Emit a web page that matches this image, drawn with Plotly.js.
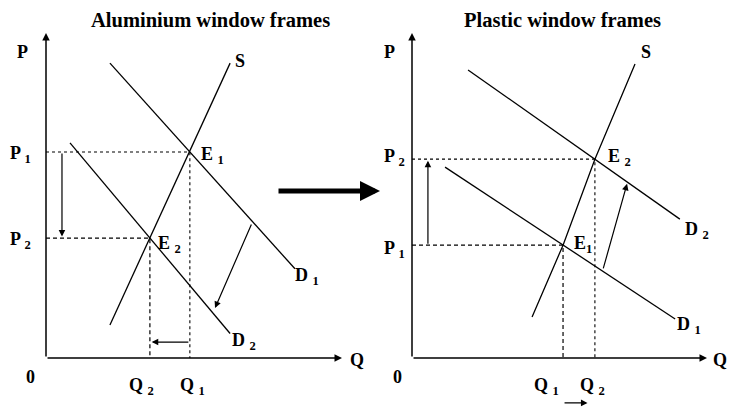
<!DOCTYPE html>
<html><head><meta charset="utf-8">
<script src="https://cdn.plot.ly/plotly-3.0.1.min.js"></script>
<style>html,body{margin:0;padding:0;background:#fff}#chart{width:731px;height:409px}</style>
</head><body><div id="chart"></div><script>
// ---- Aluminium window frames (left panel), Q and P in arbitrary units ----
const aluSupplyQ = [2.16, 3.51, 4.86, 6.22];
const aluSupplyP = [1.12, 4.06, 6.97, 9.98];
const aluD1Q = [2.16, 8.41];
const aluD1P = [9.98, 3.02];
const aluD2Q = [0.81, 6.22];
const aluD2P = [7.28, 0.83];
const aluEqQ = [4.86, 3.51];   // E1, E2
const aluEqP = [6.97, 4.06];
const aluShiftQ = [6.96, 5.71]; // demand shift arrow: from, to
const aluShiftP = [4.57, 1.69];
// ---- Plastic window frames (right panel) ----
const plaSupplyQ = [4.07, 5.12, 6.20, 7.56];
const plaSupplyP = [1.39, 3.82, 6.73, 9.95];
const plaD1Q = [1.12, 8.92];
const plaD1P = [6.46, 1.32];
const plaD2Q = [1.90, 9.08];
const plaD2P = [9.75, 4.70];
const plaEqQ = [5.12, 6.20];   // E1, E2
const plaEqP = [3.82, 6.73];
const plaShiftQ = [6.47, 7.29];
const plaShiftP = [2.98, 5.90];
const titles = ['Aluminium window frames', 'Plastic window frames'];

const W = 731, H = 409;
const FONT = 'Liberation Serif';
const px = x => x / W, py = y => 1 - y / H;

function line(xs, ys, ax, style) {
  return {x: xs, y: ys, xaxis: 'x' + ax, yaxis: 'y' + ax, mode: 'lines',
    hoverinfo: 'skip', showlegend: false,
    line: {color: '#000', width: style.w || 1.3, dash: style.dash || 'solid'}};
}
const traces = [];
// left
traces.push(line(aluSupplyQ, aluSupplyP, '', {}));
traces.push(line(aluD1Q, aluD1P, '', {}));
traces.push(line(aluD2Q, aluD2P, '', {}));
traces.push(line([0, aluEqQ[0], aluEqQ[0]], [aluEqP[0], aluEqP[0], 0], '', {dash: 'dot', w: 1.1}));
traces.push(line([0, aluEqQ[1], aluEqQ[1]], [aluEqP[1], aluEqP[1], 0], '', {dash: '4px,3px', w: 1.2}));
// right
traces.push(line(plaSupplyQ, plaSupplyP, '2', {}));
traces.push(line(plaD1Q, plaD1P, '2', {}));
traces.push(line(plaD2Q, plaD2P, '2', {}));
traces.push(line([0, plaEqQ[1], plaEqQ[1]], [plaEqP[1], plaEqP[1], 0], '2', {dash: 'dot', w: 1.1}));
traces.push(line([0, plaEqQ[0], plaEqQ[0]], [plaEqP[0], plaEqP[0], 0], '2', {dash: '4px,3px', w: 1.2}));

const ann = [];
function arrow(ax, x0, y0, x1, y1, w, size) {
  ann.push({xref: 'x' + ax, yref: 'y' + ax, axref: 'x' + ax, ayref: 'y' + ax,
    x: x1, y: y1, ax: x0, ay: y0, text: '', showarrow: true,
    arrowhead: 2, arrowsize: size || 1.1, arrowwidth: w || 1.2, arrowcolor: '#000', standoff: 0});
}
function lab(text, x, y, size, xanchor) {
  ann.push({xref: 'paper', yref: 'paper', x: px(x), y: py(y), text: text,
    showarrow: false, xanchor: xanchor || 'center', yanchor: 'middle',
    font: {family: FONT, size: size || 18, color: '#000', weight: 'bold'}});
}
// axes (drawn as arrows)
arrow('', 0, 0, 10, 0, 1.5, 1); arrow('', 0, 0, 0, 11, 1.5, 1);
arrow('2', 0, 0, 10, 0, 1.5, 1); arrow('2', 0, 0, 0, 11, 1.5, 1);
// movement arrows
arrow('', 0.54, aluEqP[0], 0.54, aluEqP[1] + 0.05);
arrow('', aluShiftQ[0], aluShiftP[0], aluShiftQ[1], aluShiftP[1]);
arrow('', aluEqQ[0], 0.54, aluEqQ[1] + 0.06, 0.54);
arrow('2', 0.54, plaEqP[0], 0.54, plaEqP[1] - 0.05);
arrow('2', plaShiftQ[0], plaShiftP[0], plaShiftQ[1], plaShiftP[1]);
arrow('2', plaEqQ[0], -1.52, plaEqQ[1] - 0.25, -1.52);
// big arrow between panels
ann.push({xref: 'paper', yref: 'paper', x: px(380), y: py(191), ax: -103, ay: 0,
  text: '', showarrow: true, arrowhead: 2, arrowsize: 0.8, arrowwidth: 5, arrowcolor: '#000', standoff: 0});

// titles
lab(titles[0], 210, 20, 20.5);
lab(titles[1], 562, 20, 20.5);
// left labels
lab('P', 22, 52); lab('Q', 357, 360); lab('0', 30, 377); lab('S', 240, 61);
lab('P <sub>1</sub>', 8, 154, 18, 'left');
lab('P <sub>2</sub>', 8, 240, 18, 'left');
lab('E <sub>1</sub>', 199, 155, 18, 'left');
lab('E <sub>2</sub>', 156, 244, 18, 'left');
lab('D <sub>1</sub>', 293, 276, 18, 'left');
lab('D <sub>2</sub>', 230, 341, 18, 'left');
lab('Q <sub>2</sub>', 127, 386, 18, 'left');
lab('Q <sub>1</sub>', 178, 386, 18, 'left');
// right labels
lab('P', 389, 52); lab('Q', 720, 360); lab('0', 397, 377); lab('S', 646, 52);
lab('P <sub>2</sub>', 382, 157, 18, 'left');
lab('P <sub>1</sub>', 382, 249, 18, 'left');
lab('E <sub>2</sub>', 606, 157, 18, 'left');
lab('E<sub>1</sub>', 572, 244, 18, 'left');
lab('D <sub>2</sub>', 683, 230, 18, 'left');
lab('D <sub>1</sub>', 675, 325, 18, 'left');
lab('Q <sub>1</sub>', 532, 386, 18, 'left');
lab('Q <sub>2</sub>', 578, 386, 18, 'left');

// y range extended below 0 so the small arrow under Q1/Q2 stays within range
const PPX = 325 / 11;                 // pixels per price unit
const yLow = -1.6;
const yDomLow = (H - (358 - yLow * PPX)) / H;
const ax = (d0, d1, r) => ({domain: [d0, d1], range: r, visible: false, fixedrange: true});
const layout = {
  width: W, height: H, margin: {l: 0, r: 0, t: 0, b: 0},
  paper_bgcolor: '#fff', plot_bgcolor: 'rgba(0,0,0,0)', showlegend: false,
  font: {family: FONT},
  xaxis: Object.assign(ax(46 / W, 342 / W, [0, 10]), {anchor: 'y'}),
  yaxis: Object.assign(ax(yDomLow, 376 / H, [yLow, 11]), {anchor: 'x'}),
  xaxis2: Object.assign(ax(412 / W, 707 / W, [0, 10]), {anchor: 'y2'}),
  yaxis2: Object.assign(ax(yDomLow, 376 / H, [yLow, 11]), {anchor: 'x2'}),
  annotations: ann
};
Plotly.newPlot('chart', traces, layout, {displayModeBar: false, staticPlot: true});
</script></body></html>
